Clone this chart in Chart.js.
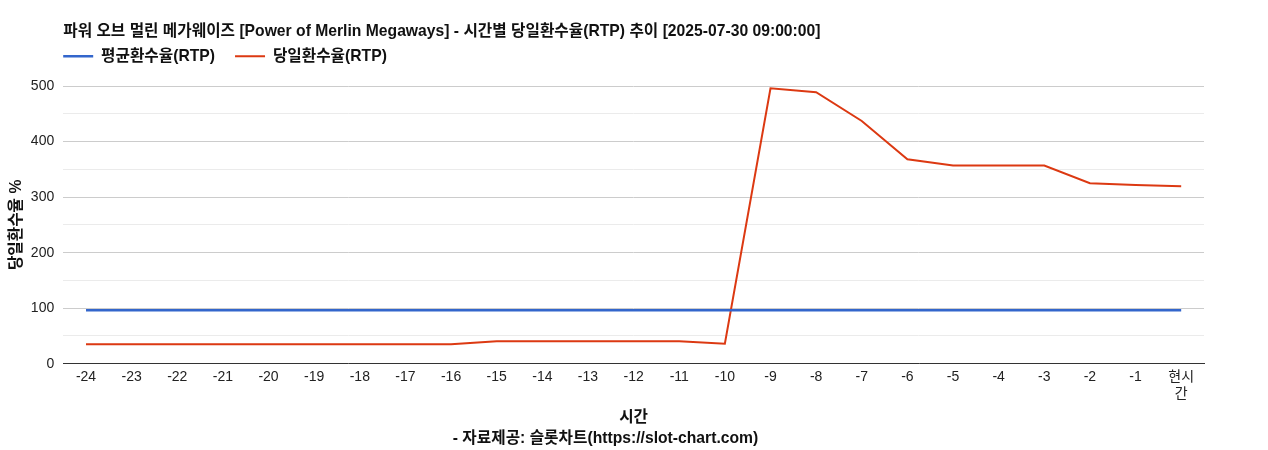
<!DOCTYPE html>
<html>
<head>
<meta charset="utf-8">
<script src="https://cdn.jsdelivr.net/npm/chart.js@4.4.1/dist/chart.umd.min.js"></script>
<style>
  html, body { margin: 0; padding: 0; background: #fff; }
  #wrap { width: 1268px; height: 450px; position: relative; }
</style>
</head>
<body>
<div id="wrap"><canvas id="c"></canvas></div>
<script>
const categories = ['-24','-23','-22','-21','-20','-19','-18','-17','-16','-15','-14','-13','-12','-11','-10','-9','-8','-7','-6','-5','-4','-3','-2','-1',['현시','간']];
const avgRtp = [96.5,96.5,96.5,96.5,96.5,96.5,96.5,96.5,96.5,96.5,96.5,96.5,96.5,96.5,96.5,96.5,96.5,96.5,96.5,96.5,96.5,96.5,96.5,96.5,96.5];
const dailyRtp = [35,35,35,35,35,35,35,35,35,40.5,40.5,40.5,40.5,40.5,36,496,489,437,368,357,357,357,325,322,319.5];
const yTicks = [0,100,200,300,400,500];

const FONT = "'Liberation Sans', Arial, 'Noto Sans CJK KR', sans-serif";
Chart.defaults.font.family = FONT;
Chart.defaults.color = '#222';

const BOLD = { size: 15.7, weight: 'bold' };

const legendSpacing = {
  id: 'legendSpacing',
  beforeInit(chart) {
    const lg = chart.legend;
    if (!lg) return;
    const origFit = lg.fit;
    lg.fit = function () { origFit.call(this); this.height += 12; };
  },
  afterLayout(chart) {
    const lg = chart.legend;
    if (lg) { lg.left -= 20; lg.right -= 20; }
  }
};

new Chart(document.getElementById('c'), {
  type: 'line',
  data: {
    labels: categories,
    datasets: [
      { label: '평균환수율(RTP)', data: avgRtp, borderColor: '#3366cc', backgroundColor: '#3366cc', borderWidth: 2.5, pointRadius: 0, tension: 0 },
      { label: '당일환수율(RTP)', data: dailyRtp, borderColor: '#dc3912', backgroundColor: '#dc3912', borderWidth: 2, pointRadius: 0, tension: 0 }
    ]
  },
  plugins: [legendSpacing],
  options: {
    responsive: true,
    maintainAspectRatio: false,
    animation: false,
    layout: { padding: { left: 7, right: 64, top: 0, bottom: 2 } },
    plugins: {
      title: {
        display: true, text: '파워 오브 멀린 메가웨이즈 [Power of Merlin Megaways] - 시간별 당일환수율(RTP) 추이 [2025-07-30 09:00:00]',
        align: 'start', fullSize: false, color: '#111',
        font: BOLD, padding: { top: 22.5, bottom: -13 }
      },
      legend: {
        align: 'start', fullSize: false,
        labels: { usePointStyle: true, pointStyle: 'line', pointStyleWidth: 30, color: '#111', font: BOLD, padding: 20 }
      },
      subtitle: {
        display: true, position: 'bottom', text: '- 자료제공: 슬롯차트(https://slot-chart.com)',
        color: '#111', font: BOLD, padding: { top: 0, bottom: 0 }
      },
      tooltip: { enabled: false }
    },
    scales: {
      x: {
        offset: true,
        grid: { display: false, drawTicks: false },
        border: { display: true, color: '#333', width: 1 },
        ticks: { font: { size: 14 }, color: '#222', maxRotation: 0, autoSkip: false, padding: 5 },
        title: { display: true, text: '시간', color: '#111', font: BOLD, padding: { top: 1, bottom: 2 } }
      },
      y: {
        min: 0, max: 500,
        border: { display: false },
        grid: { color: (ctx) => (ctx.tick && ctx.tick.value % 100 === 0) ? '#cccccc' : '#ebebeb', drawTicks: false },
        ticks: {
          stepSize: 50, font: { size: 14 }, color: '#222', padding: 9,
          callback: (v) => yTicks.includes(v) ? String(v) : ''
        },
        title: { display: true, text: '당일환수율 %', color: '#111', font: BOLD, padding: { top: 0, bottom: -4 } }
      }
    }
  }
});
</script>
</body>
</html>
